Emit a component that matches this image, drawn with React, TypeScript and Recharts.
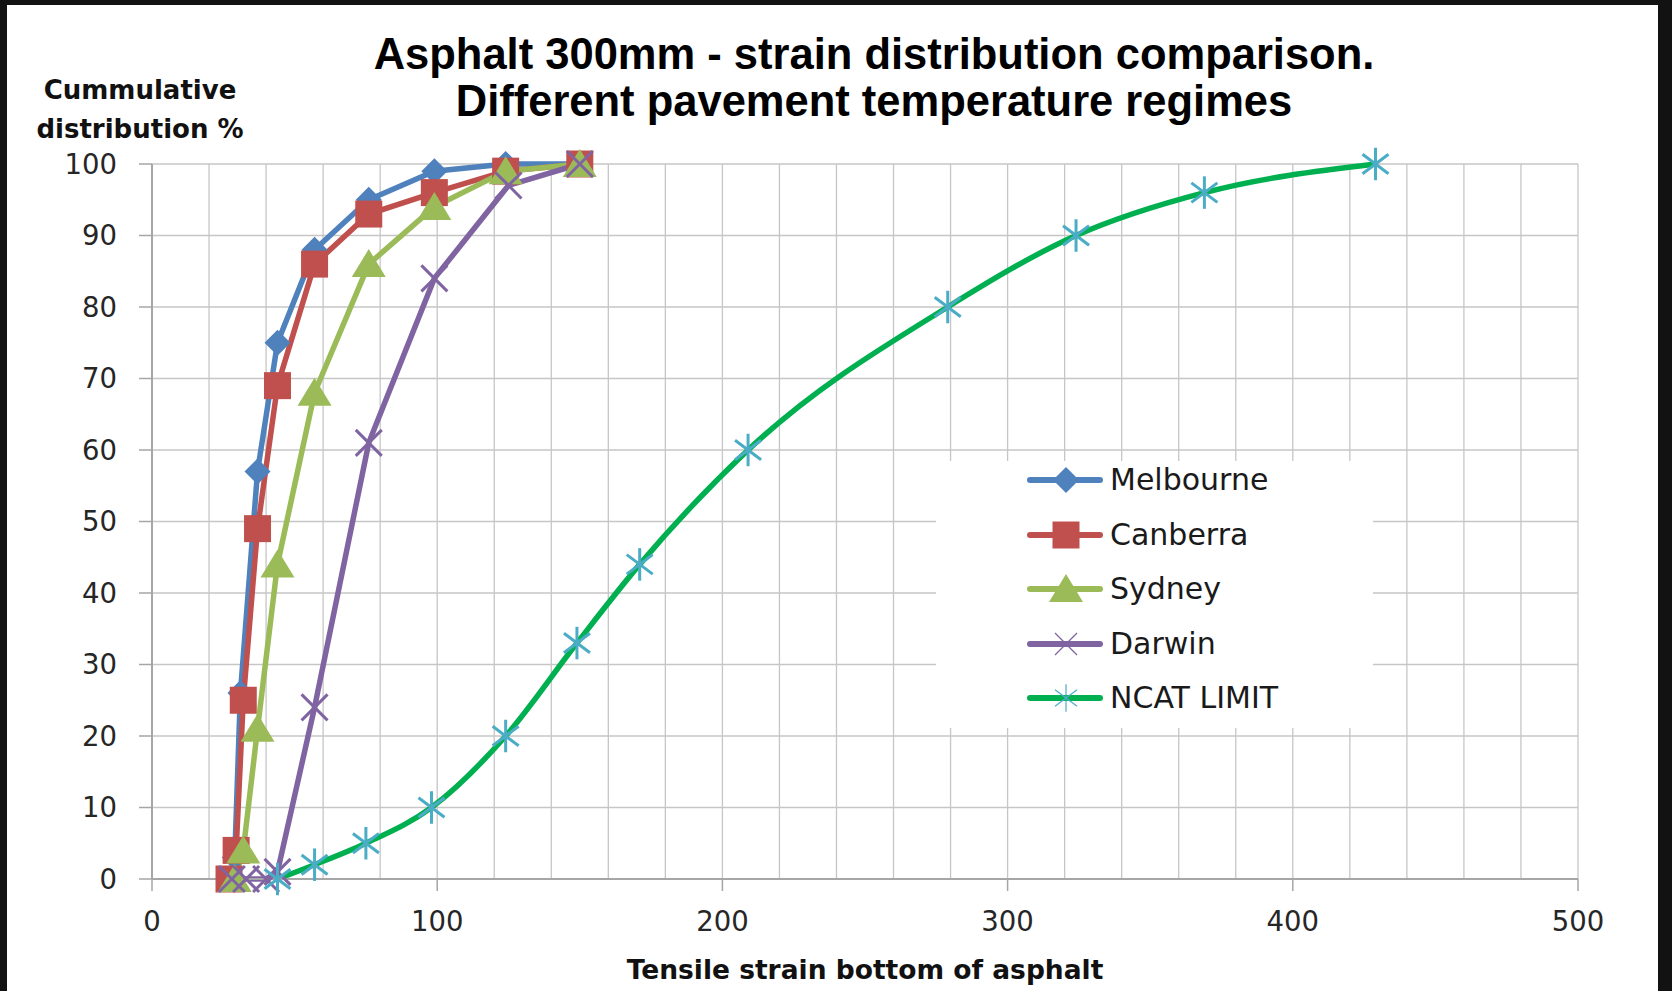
import React from 'react';
import { LineChart, Line, XAxis, YAxis, CartesianGrid, Legend } from 'recharts';

const xTicks = [0, 20, 40, 60, 80, 100, 120, 140, 160, 180, 200, 220, 240, 260, 280, 300, 320, 340, 360, 380, 400, 420, 440, 460, 480, 500];
const yTicks = [0, 10, 20, 30, 40, 50, 60, 70, 80, 90, 100];

const melbourneX = [28, 29, 31, 37, 44, 57, 76, 99, 124, 150];
const melbourneY = [0, 3, 26, 57, 75, 88, 95, 99, 100, 100];

const canberraX = [27, 29.5, 32, 37, 44, 57, 76, 99, 124, 150];
const canberraY = [0, 4, 25, 49, 69, 86, 93, 96, 99, 100];

const sydneyX = [29, 32, 37, 44, 57, 76, 99, 124, 150];
const sydneyY = [0, 4, 21, 44, 68, 86, 94, 99, 100];

const darwinX = [28, 33, 40, 44, 57, 76, 99, 125, 150];
const darwinY = [0, 0, 0, 1, 24, 61, 84, 97, 100];

const ncatX = [44, 57, 75, 98, 124, 149, 171, 209, 279, 324, 369, 429];
const ncatY = [0, 2, 5, 10, 20, 33, 44, 60, 80, 90, 96, 100];

const seriesNames = ['Melbourne', 'Canberra', 'Sydney', 'Darwin', 'NCAT LIMIT'];

const zip = (xs: number[], ys: number[]) => xs.map((x, i) => ({ x, y: ys[i] }));

const BLUE = '#4F81BD';
const RED = '#C0504D';
const GREEN = '#9BBB59';
const PURPLE = '#8064A2';
const NCAT_LINE = '#00B050';
const NCAT_MARK = '#4BACC6';

const Diamond = ({ cx, cy, r = 13 }: any) => (
  <polygon points={`${cx},${cy - r} ${cx + r},${cy} ${cx},${cy + r} ${cx - r},${cy}`} fill={BLUE} />
);
const Square = ({ cx, cy, s = 27 }: any) => (
  <rect x={cx - s / 2} y={cy - s / 2} width={s} height={s} fill={RED} />
);
const Triangle = ({ cx, cy, w = 17, h = 15 }: any) => (
  <polygon points={`${cx},${cy - h} ${cx + w},${cy + h - 2} ${cx - w},${cy + h - 2}`} fill={GREEN} />
);
const Cross = ({ cx, cy, r = 13, sw = 3 }: any) => (
  <g stroke={PURPLE} strokeWidth={sw}>
    <line x1={cx - r} y1={cy - r} x2={cx + r} y2={cy + r} />
    <line x1={cx - r} y1={cy + r} x2={cx + r} y2={cy - r} />
  </g>
);
const Star = ({ cx, cy, r = 13, sw = 3 }: any) => (
  <g stroke={NCAT_MARK} strokeWidth={sw}>
    <line x1={cx - r} y1={cy - r * 0.75} x2={cx + r} y2={cy + r * 0.75} />
    <line x1={cx - r} y1={cy + r * 0.75} x2={cx + r} y2={cy - r * 0.75} />
    <line x1={cx} y1={cy - r * 1.25} x2={cx} y2={cy + r * 1.25} />
  </g>
);

const series = [
  { name: seriesNames[0], data: zip(melbourneX, melbourneY), color: BLUE, Mark: Diamond, type: 'linear' },
  { name: seriesNames[1], data: zip(canberraX, canberraY), color: RED, Mark: Square, type: 'linear' },
  { name: seriesNames[2], data: zip(sydneyX, sydneyY), color: GREEN, Mark: Triangle, type: 'linear' },
  { name: seriesNames[3], data: zip(darwinX, darwinY), color: PURPLE, Mark: Cross, type: 'linear' },
  { name: seriesNames[4], data: zip(ncatX, ncatY), color: NCAT_LINE, Mark: Star, type: 'monotone' },
];

const AXIS = '#a6a6a6';
const GRID = '#c6c6c6';
const X_TICK_SIZE = 12;
const X_TICK_MARGIN = 20;

const XTick = (props: any) => {
  const { x, y, payload } = props;
  const v = payload.value;
  if (v % 100 !== 0) return <g />;
  return (
    <g>
      <line x1={x} x2={x} y1={y - X_TICK_SIZE - X_TICK_MARGIN} y2={y - X_TICK_MARGIN} stroke={AXIS} strokeWidth={1.5} />
      <text x={x} y={y} dy="0.71em" textAnchor="middle" fill="#262626" fontSize={27.5} fontFamily="DejaVu Sans">
        {v}
      </text>
    </g>
  );
};

const LegendContent = () => (
  <div style={{ position: 'relative', width: 437, height: 267, background: '#fff' }}>
    {series.map((s, i) => {
      const Mark = s.Mark as any;
      const small = i >= 3;
      return (
        <div key={s.name} style={{ position: 'absolute', left: 0, top: 19 + i * 54.5 - 20, height: 40, width: 437 }}>
          <svg width={170} height={40} style={{ position: 'absolute', left: 0, top: 0 }}>
            <line x1={94} x2={164} y1={20} y2={20} stroke={s.color} strokeWidth={6} strokeLinecap="round" />
            {small ? <Mark cx={130} cy={20} r={11} sw={1.2} /> : <Mark cx={130} cy={20} />}
          </svg>
          <span style={{ position: 'absolute', left: 174, top: 0, lineHeight: '40px', fontSize: 30, fontFamily: 'DejaVu Sans', color: '#1a1a1a', whiteSpace: 'nowrap' }}>
            {s.name}
          </span>
        </div>
      );
    })}
  </div>
);

export default function App() {
  return (
    <div style={{ position: 'absolute', left: 0, top: 0, width: 1672, height: 991, background: '#121212', overflow: 'hidden' }}>
      <div style={{ position: 'absolute', left: 7, top: 5, width: 1651, height: 986, background: '#fff' }} />
      <div style={{ position: 'absolute', left: 0, top: 0 }}>
        <LineChart width={1672} height={991} margin={{ top: 164, right: 94, left: 0, bottom: 52 }}>
          <CartesianGrid stroke={GRID} strokeWidth={1.3} />
          <XAxis
            type="number"
            dataKey="x"
            domain={[0, 500]}
            ticks={xTicks}
            interval={0}
            height={60}
            tickSize={X_TICK_SIZE}
            tickMargin={X_TICK_MARGIN}
            tickLine={false}
            axisLine={{ stroke: AXIS, strokeWidth: 2 }}
            tick={<XTick />}
            allowDataOverflow
          />
          <YAxis
            type="number"
            domain={[0, 100]}
            ticks={yTicks}
            interval={0}
            width={152}
            tickSize={13}
            tickMargin={22}
            tickLine={{ stroke: AXIS, strokeWidth: 1.5 }}
            axisLine={{ stroke: AXIS, strokeWidth: 2 }}
            tick={{ fill: '#262626', fontSize: 27.5, fontFamily: 'DejaVu Sans' }}
          />
          <Legend
            layout="vertical"
            align="center"
            verticalAlign="middle"
            content={<LegendContent />}
            wrapperStyle={{ left: 936, top: 461, width: 437, height: 267 }}
          />
          {series.map((s) => {
            const Mark = s.Mark as any;
            return (
              <Line
                key={s.name}
                name={s.name}
                data={s.data}
                dataKey="y"
                type={s.type as any}
                stroke={s.color}
                strokeWidth={5.5}
                isAnimationActive={false}
                dot={(p: any) => <Mark key={`${s.name}-${p.index}`} cx={p.cx} cy={p.cy} />}
                activeDot={false}
              />
            );
          })}
        </LineChart>
      </div>
      <div style={{ position: 'absolute', left: 324, top: 31, width: 1100, textAlign: 'center', fontFamily: 'Liberation Sans', fontWeight: 'bold', fontSize: 43.5, lineHeight: '47px', color: '#000', whiteSpace: 'nowrap' }}>
        Asphalt 300mm - strain distribution comparison.
        <br />
        Different pavement temperature regimes
      </div>
      <div style={{ position: 'absolute', left: 10, top: 71, width: 260, textAlign: 'center', fontFamily: 'DejaVu Sans', fontWeight: 'bold', fontSize: 26, lineHeight: '39px', color: '#111', whiteSpace: 'nowrap' }}>
        Cummulative
        <br />
        distribution %
      </div>
      <div style={{ position: 'absolute', left: 565, top: 951, width: 600, textAlign: 'center', fontFamily: 'DejaVu Sans', fontWeight: 'bold', fontSize: 26.5, lineHeight: '38px', color: '#111', whiteSpace: 'nowrap' }}>
        Tensile strain bottom of asphalt
      </div>
    </div>
  );
}
